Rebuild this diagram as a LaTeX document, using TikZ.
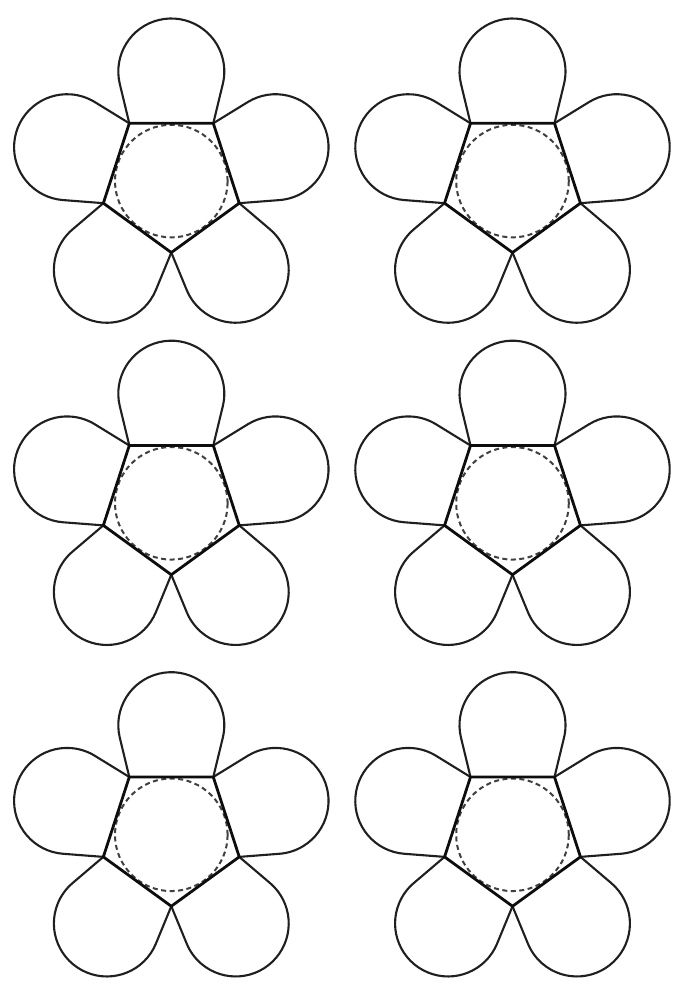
\documentclass[tikz,border=0pt]{standalone}
\newcommand\drawflower[2]{%
  \begin{scope}[shift={(#1,#2)}]
    \foreach \k in {0,...,4}{
      \draw[petal, rotate=72*\k] (-42,57.8) -- (-51.52,97.17)
        arc[start angle=193.56, end angle=-13.56, radius=53] -- (42,57.8);
    }
    \draw[incircle] (0,0) circle[radius=56.3];
    \draw[pent] (54:71.45) -- (126:71.45) -- (198:71.45) -- (270:71.45) -- (342:71.45) -- cycle;
  \end{scope}}
\begin{document}
\begin{tikzpicture}[x=1pt,y=1pt,
  petal/.style={line width=2.1pt, line join=round, draw=black!88},
  pent/.style={line width=2.8pt, line join=miter, draw=black!95},
  incircle/.style={line width=2pt, dash pattern=on 5pt off 3.5pt, draw=black!75}]
\fill[white] (0,0) rectangle (684,988);
\useasboundingbox (0,0) rectangle (684,988);
\drawflower{171.3}{806.9}
\drawflower{512.5}{806.9}
\drawflower{171.3}{484.7}
\drawflower{512.5}{484.7}
\drawflower{171.3}{153.2}
\drawflower{512.5}{153.2}
\end{tikzpicture}
\end{document}
